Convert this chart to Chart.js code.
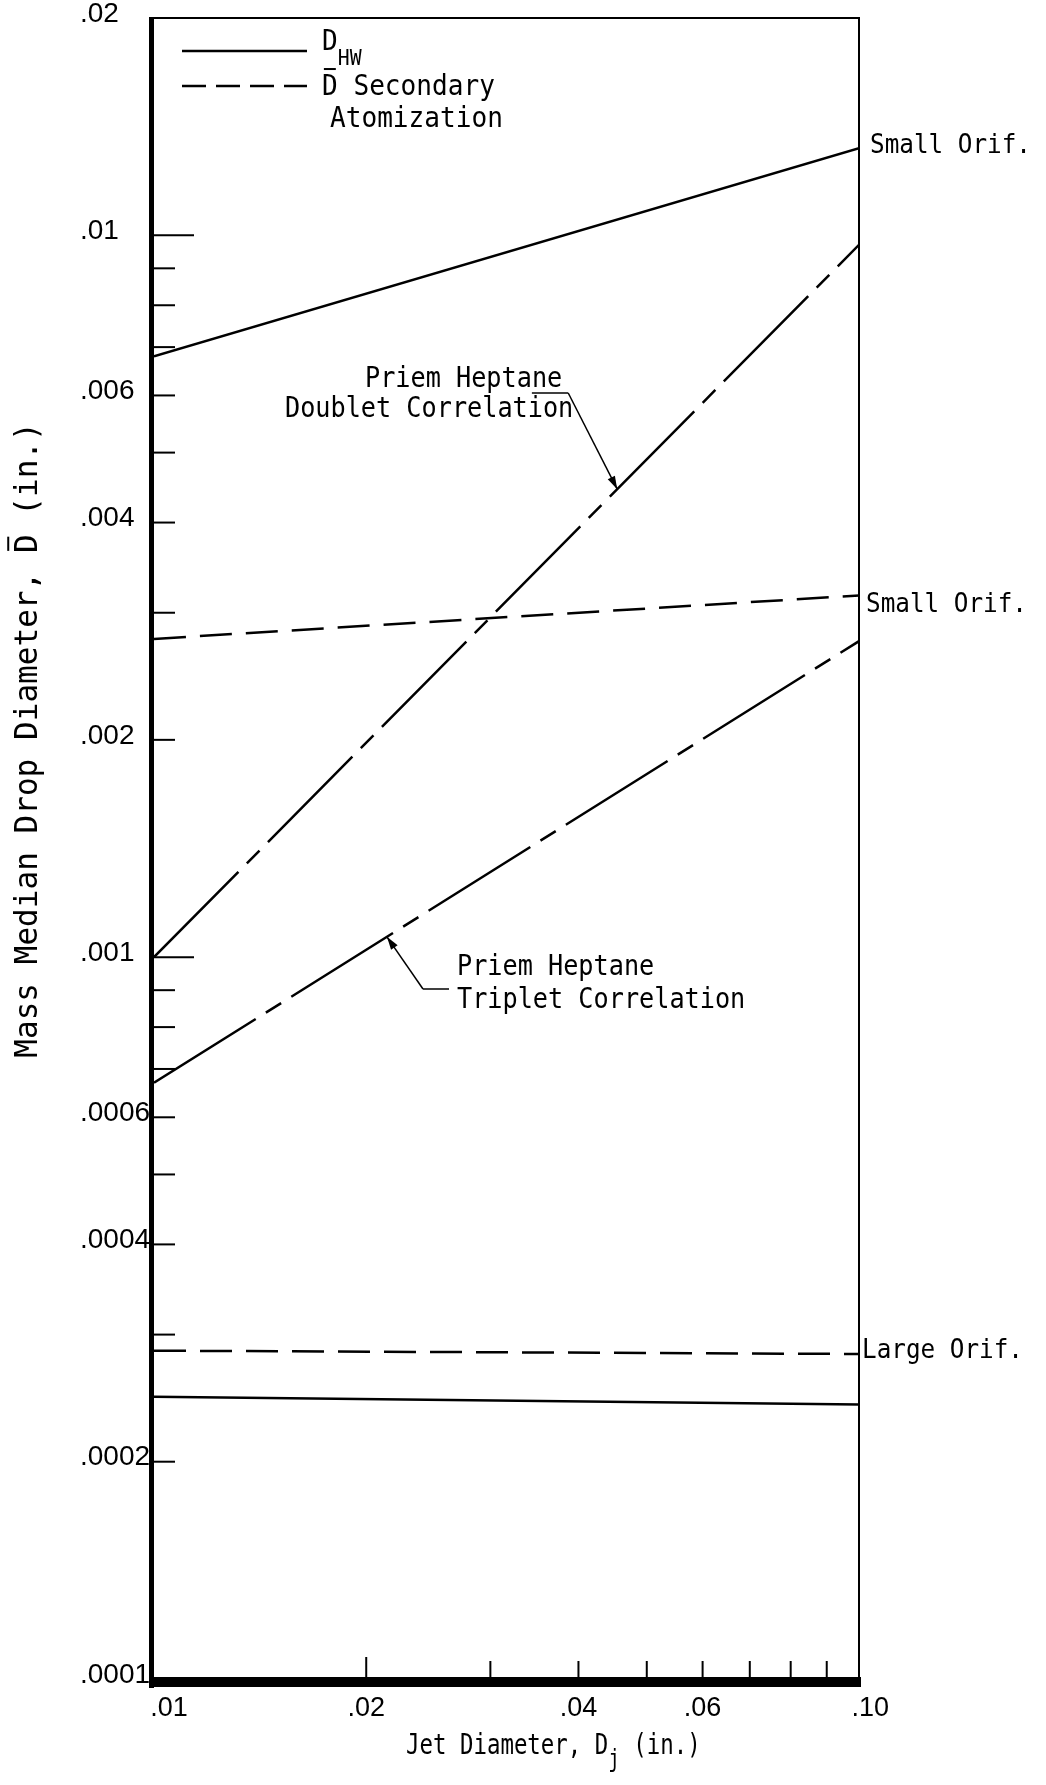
<!DOCTYPE html>
<html>
<head>
<meta charset="utf-8">
<script src="https://cdn.jsdelivr.net/npm/chart.js@4.4.1/dist/chart.umd.min.js"></script>
<style>
  html, body { margin: 0; padding: 0; background: #fff; }
  #wrap { width: 1046px; height: 1785px; }
</style>
</head>
<body>
<div id="wrap"><canvas id="drop-chart" width="1046" height="1785"></canvas></div>
<script>
// jet diameter (in.) at the two ends of each line
const jetDiameter = [0.01, 0.10];

// mass median drop diameter (in.)
const dhwSmallOrif = [0.0068, 0.0132];
const dhwLargeOrif = [0.000246, 0.000240];
const dbarSmallOrif = [0.00276, 0.00317];
const dbarLargeOrif = [0.000285, 0.000282];
const priemDoublet = [0.001, 0.0097];
const priemTriplet = [0.00067, 0.00274];

// axis ticks and their labels
const yTickValues = [0.0001, 0.0002, 0.0003, 0.0004, 0.0005, 0.0006, 0.0007, 0.0008, 0.0009,
  0.001, 0.002, 0.003, 0.004, 0.005, 0.006, 0.007, 0.008, 0.009, 0.01, 0.02];
const yLabelValues = [0.0001, 0.0002, 0.0004, 0.0006, 0.001, 0.002, 0.004, 0.006, 0.01, 0.02];
const yTickLabels = ['.0001', '.0002', '.0004', '.0006', '.001', '.002', '.004', '.006', '.01', '.02'];
const xTickValues = [0.01, 0.02, 0.03, 0.04, 0.05, 0.06, 0.07, 0.08, 0.09, 0.10];
const xLabelValues = [0.01, 0.02, 0.04, 0.06, 0.10];
const xTickLabels = ['    .01', '.02', '.04', '.06', '   .10'];

const MONO = '"DejaVu Sans Mono", monospace';
const TICK_FONT = '"Liberation Sans", Arial, sans-serif';

function toPoints(ys) {
  return jetDiameter.map((x, i) => ({ x: x, y: ys[i] }));
}

function labelFor(values, labels, v) {
  for (let i = 0; i < values.length; i++) {
    if (Math.abs(Math.log10(v) - Math.log10(values[i])) < 1e-6) return labels[i];
  }
  return '';
}

// value of a straight log-log line at jet diameter xv
function logInterp(xv, ys) {
  let t = (Math.log10(xv) - Math.log10(jetDiameter[0])) /
    (Math.log10(jetDiameter[1]) - Math.log10(jetDiameter[0]));
  return Math.pow(10, Math.log10(ys[0]) + t * (Math.log10(ys[1]) - Math.log10(ys[0])));
}

// text made of runs (subscripts, overbarred letters), optionally squeezed
function runsWidth(ctx, runs, size, sx) {
  let w = 0;
  runs.forEach(function (r) {
    ctx.font = (r.size || size) + 'px ' + MONO;
    w += ctx.measureText(r.t).width;
  });
  return w * sx;
}

function drawRuns(ctx, x, y, runs, size, sx, align) {
  sx = sx || 0.9;
  let start = 0;
  if (align === 'center') start = -runsWidth(ctx, runs, size, sx) / 2;
  ctx.save();
  ctx.translate(x + start, y);
  ctx.scale(sx, 1);
  ctx.textBaseline = 'alphabetic';
  ctx.textAlign = 'left';
  let cx = 0;
  runs.forEach(function (r) {
    let s = r.size || size;
    let dy = r.dy || 0;
    ctx.font = s + 'px ' + MONO;
    ctx.fillText(r.t, cx, dy);
    if (r.bar) {
      let cw = ctx.measureText(r.t[0]).width;
      ctx.fillRect(cx + cw * 0.12, dy - s * 0.93, cw * 0.76, 2);
    }
    cx += ctx.measureText(r.t).width;
  });
  ctx.restore();
}

function line(ctx, x1, y1, x2, y2, width, dash) {
  ctx.save();
  ctx.lineWidth = width;
  ctx.setLineDash(dash || []);
  ctx.beginPath();
  ctx.moveTo(x1, y1);
  ctx.lineTo(x2, y2);
  ctx.stroke();
  ctx.restore();
}

function arrowHead(ctx, fromX, fromY, tipX, tipY) {
  let ang = Math.atan2(tipY - fromY, tipX - fromX);
  let len = 13, half = 4;
  ctx.beginPath();
  ctx.moveTo(tipX, tipY);
  ctx.lineTo(tipX - len * Math.cos(ang) + half * Math.sin(ang), tipY - len * Math.sin(ang) - half * Math.cos(ang));
  ctx.lineTo(tipX - len * Math.cos(ang) - half * Math.sin(ang), tipY - len * Math.sin(ang) + half * Math.cos(ang));
  ctx.closePath();
  ctx.fill();
}

const paperPlugin = {
  id: 'paper',
  beforeDraw(chart) {
    let ctx = chart.ctx;
    ctx.save();
    ctx.fillStyle = '#fff';
    ctx.fillRect(0, 0, chart.width, chart.height);
    ctx.restore();
  },
  afterDraw(chart) {
    let ctx = chart.ctx;
    let a = chart.chartArea;
    let xs = chart.scales.x;
    let ys = chart.scales.y;
    ctx.save();
    ctx.fillStyle = '#000';
    ctx.strokeStyle = '#000';

    // frame: heavy left and bottom edges, light top and right
    ctx.fillRect(a.left - 5, a.top - 1, 5, a.bottom - a.top + 10);
    ctx.fillRect(a.left - 5, a.bottom - 2, a.right - a.left + 7, 10);
    ctx.fillRect(a.left - 5, a.top - 1, a.right - a.left + 6, 2);
    ctx.fillRect(a.right - 1, a.top - 1, 2, a.bottom - a.top + 4);

    // tick marks point into the plot
    yTickValues.forEach(function (v) {
      if (v <= 0.0001 || v >= 0.02) return;
      let py = ys.getPixelForValue(v);
      let lg = Math.log10(v);
      let len = Math.abs(lg - Math.round(lg)) < 1e-6 ? 40 : 21;
      line(ctx, a.left, py, a.left + len, py, 2);
    });
    xTickValues.forEach(function (v) {
      if (v <= 0.01 || v >= 0.1) return;
      let px = xs.getPixelForValue(v);
      let len = Math.abs(v - 0.02) < 1e-9 ? 20 : 16;
      line(ctx, px, a.bottom - 2, px, a.bottom - 2 - len, 2);
    });

    // legend
    line(ctx, 182, 51, 307, 51, 2.5);
    line(ctx, 182, 86, 307, 86, 2.5, [24, 10]);
    drawRuns(ctx, 322, 50, [{ t: 'D' }, { t: 'HW', size: 22, dy: 15 }], 29);
    drawRuns(ctx, 322, 95, [{ t: 'D', bar: true }, { t: ' Secondary' }], 29);
    drawRuns(ctx, 330, 127, [{ t: 'Atomization' }], 29);

    // orifice labels beside the line ends
    let rx = a.right + 5;
    drawRuns(ctx, rx + 6, ys.getPixelForValue(dhwSmallOrif[1]) + 5, [{ t: 'Small Orif.' }], 27);
    drawRuns(ctx, rx + 2, ys.getPixelForValue(dbarSmallOrif[1]) + 17, [{ t: 'Small Orif.' }], 27);
    drawRuns(ctx, rx - 2, ys.getPixelForValue(dbarLargeOrif[1]) + 4, [{ t: 'Large Orif.' }], 27);

    // doublet correlation note
    let adv = runsWidth(ctx, [{ t: 'M' }], 28, 0.9);
    drawRuns(ctx, 365, 387, [{ t: 'Priem Heptane' }], 28);
    drawRuns(ctx, 285, 417, [{ t: 'Doublet Correlation' }], 28);
    let ulStart = 365 + 11 * adv;
    let ulEnd = 365 + 13 * adv + 6;
    line(ctx, ulStart, 393, ulEnd, 393, 1.5);
    let dx = 0.0454;
    let tipX = xs.getPixelForValue(dx);
    let tipY = ys.getPixelForValue(logInterp(dx, priemDoublet));
    line(ctx, ulEnd, 393, tipX, tipY, 1.5);
    arrowHead(ctx, ulEnd, 393, tipX, tipY);

    // triplet correlation note
    drawRuns(ctx, 457, 975, [{ t: 'Priem Heptane' }], 28);
    drawRuns(ctx, 457, 1008, [{ t: 'Triplet Correlation' }], 28);
    let tx = 0.0214;
    let t2X = xs.getPixelForValue(tx);
    let t2Y = ys.getPixelForValue(logInterp(tx, priemTriplet));
    line(ctx, t2X, t2Y, 423, 989, 1.5);
    line(ctx, 423, 989, 449, 989, 1.5);
    arrowHead(ctx, 423, 989, t2X, t2Y);

    // axis titles
    drawRuns(ctx, 406, 1754, [{ t: 'Jet Diameter, D' }, { t: 'j', size: 24, dy: 13 }, { t: ' (in.)' }], 28, 0.8);
    ctx.save();
    ctx.translate(37, 740);
    ctx.rotate(-Math.PI / 2);
    drawRuns(ctx, 0, 0, [{ t: 'Mass Median Drop Diameter, ' }, { t: 'D', bar: true }, { t: ' (in.)' }], 32, 0.97, 'center');
    ctx.restore();

    ctx.restore();
  }
};

const solidLine = { borderColor: '#000', borderWidth: 2.5, pointRadius: 0, showLine: true, fill: false };
const chainDash = [120, 12, 18, 12];

let config = {
  type: 'scatter',
  data: {
    datasets: [
      Object.assign({ label: 'D_HW small orifice', data: toPoints(dhwSmallOrif) }, solidLine),
      Object.assign({ label: 'D_HW large orifice', data: toPoints(dhwLargeOrif) }, solidLine),
      Object.assign({ label: 'Dbar small orifice', data: toPoints(dbarSmallOrif), borderDash: [32, 14] }, solidLine),
      Object.assign({ label: 'Dbar large orifice', data: toPoints(dbarLargeOrif), borderDash: [32, 14] }, solidLine),
      Object.assign({ label: 'Priem doublet', data: toPoints(priemDoublet), borderDash: chainDash }, solidLine),
      Object.assign({ label: 'Priem triplet', data: toPoints(priemTriplet), borderDash: chainDash }, solidLine),
    ],
  },
  options: {
    responsive: false,
    animation: false,
    layout: { padding: { left: 80, top: 17, right: 187, bottom: 0 } },
    plugins: {
      legend: { display: false },
      tooltip: { enabled: false },
    },
    elements: { line: { tension: 0, borderCapStyle: 'butt' } },
    scales: {
      x: {
        type: 'logarithmic',
        min: 0.01,
        max: 0.1,
        grid: { display: false, drawTicks: false },
        border: { display: false },
        afterBuildTicks: function (scale) {
          scale.ticks = xTickValues.map(function (v) { return { value: v }; });
        },
        afterFit: function (scale) { scale.height = 106; },
        ticks: {
          autoSkip: false,
          maxRotation: 0,
          padding: 16,
          color: '#000',
          font: { family: TICK_FONT, size: 27, lineHeight: 1 },
          callback: function (value) { return labelFor(xLabelValues, xTickLabels, value); },
        },
      },
      y: {
        type: 'logarithmic',
        min: 0.0001,
        max: 0.02,
        grid: { display: false, drawTicks: false },
        border: { display: false },
        afterBuildTicks: function (scale) {
          scale.ticks = yTickValues.map(function (v) { return { value: v }; });
        },
        afterFit: function (scale) { scale.width = 74; },
        ticks: {
          autoSkip: false,
          crossAlign: 'far',
          padding: 4,
          labelOffset: -4,
          color: '#000',
          font: { family: TICK_FONT, size: 28, lineHeight: 1 },
          callback: function (value) { return labelFor(yLabelValues, yTickLabels, value); },
        },
      },
    },
  },
  plugins: [paperPlugin],
};

let dropChart = new Chart(document.getElementById('drop-chart'), config);
</script>
</body>
</html>
